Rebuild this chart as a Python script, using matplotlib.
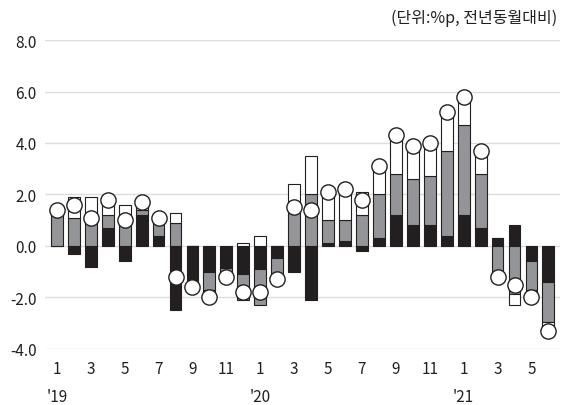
import numpy as np
import matplotlib
matplotlib.use("Agg")
import matplotlib.pyplot as plt
from matplotlib.transforms import blended_transform_factory

plt.rcParams['font.family'] = ['Noto Sans CJK KR', 'DejaVu Sans']

# monthly contributions, Jan 2019 - Jun 2021 (%p, yoy)
months = [1, 2, 3, 4, 5, 6, 7, 8, 9, 10, 11, 12,
          1, 2, 3, 4, 5, 6, 7, 8, 9, 10, 11, 12,
          1, 2, 3, 4, 5, 6]
black = [0.0, -0.3, -0.8, 0.7, -0.6, 1.2, 0.4, -2.5, -1.6, -1.0, -0.85, -1.1,
         -0.9, -0.45, -1.0, -2.1, 0.1, 0.2, -0.2, 0.3, 1.2, 0.8, 0.8, 0.4,
         1.2, 0.7, 0.3, 0.8, -0.6, -1.4]
gray = [1.4, 1.1, 1.2, 0.5, 1.1, 0.2, 0.5, 0.9, 0.0, -0.7, -0.15, -1.0,
        -1.4, -0.85, 1.4, 2.0, 0.9, 0.8, 1.2, 1.7, 1.6, 1.8, 1.9, 3.3,
        3.5, 2.1, -1.4, -1.85, -1.1, -1.55]
white = [0.0, 0.8, 0.7, 0.7, 0.5, 0.3, 0.2, 0.4, 0.0, -0.3, -0.2, 0.1,
         0.4, 0.0, 1.0, 1.5, 1.1, 1.2, 0.9, 1.1, 1.5, 1.3, 1.3, 1.5,
         1.1, 0.9, 0.0, -0.45, -0.3, -0.2]
total = [1.4, 1.6, 1.1, 1.8, 1.0, 1.7, 1.1, -1.2, -1.6, -2.0, -1.2, -1.8,
         -1.8, -1.3, 1.5, 1.4, 2.1, 2.2, 1.8, 3.1, 4.3, 3.9, 4.0, 5.2,
         5.8, 3.7, -1.2, -1.5, -2.0, -3.3]
years = ["'19", "'20", "'21"]
year_start = [0, 12, 24]

x = np.arange(len(months))

fig = plt.figure(figsize=(5.77, 4.06), dpi=100)
ax = fig.add_axes([0.078, 0.138, 0.893, 0.761])

pos_base = np.zeros(len(x))
neg_base = np.zeros(len(x))
for vals, col in [(black, '#231f20'), (gray, '#939598'), (white, 'white')]:
    v = np.array(vals)
    bottom = np.where(v >= 0, pos_base, neg_base)
    ax.bar(x, v, bottom=bottom, width=0.7, color=col, edgecolor='#231f20',
           linewidth=0.8, zorder=3)
    pos_base += np.where(v > 0, v, 0)
    neg_base += np.where(v < 0, v, 0)

ax.plot(x, total, 'o', markersize=11, markerfacecolor='white',
        markeredgecolor='#231f20', markeredgewidth=1.0, zorder=5)

ax.set_ylim(-4, 8)
ax.set_yticks(np.arange(-4, 8.1, 2))
ax.set_yticklabels(['%.1f' % t for t in np.arange(-4, 8.1, 2)])
ax.set_xlim(-0.7, 29.7)
ax.set_xticks(x[::2])
ax.set_xticklabels([str(m) for m in months[::2]])
ax.tick_params(length=0, labelsize=11, colors='#231f20')
ax.tick_params(axis='x', pad=8)
ax.tick_params(axis='y', pad=6)
for lab in ax.get_xticklabels() + ax.get_yticklabels():
    lab.set_fontweight('light')
ax.grid(axis='y', color='#dcdcdc', linewidth=1.0, zorder=0)
for s in ax.spines.values():
    s.set_visible(False)

tr = blended_transform_factory(ax.transData, fig.transFigure)
for yl, xs in zip(years, year_start):
    ax.text(xs, 0.02, yl, transform=tr, ha='center', va='center',
            fontsize=11, fontweight='light', color='#231f20')

fig.text(0.966, 0.955, '(단위:%p, 전년동월대비)', ha='right', va='center',
         fontsize=11.5, fontweight='light', color='#231f20')

fig.savefig('out.png', dpi=100)
